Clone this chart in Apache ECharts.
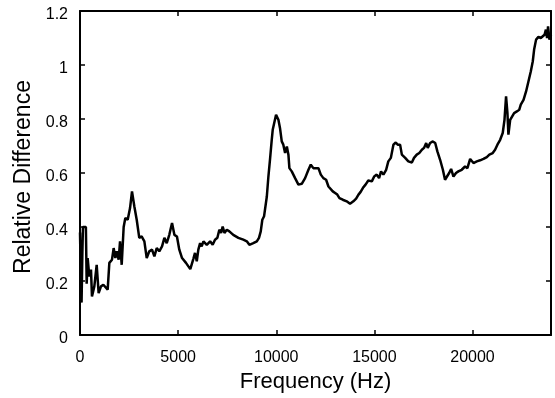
<!DOCTYPE html>
<html>
<head>
<meta charset="utf-8">
<script src="https://cdn.jsdelivr.net/npm/echarts@6/dist/echarts.min.js"></script>
<style>
html,body{margin:0;padding:0;background:#fff;}
#chart{width:555px;height:398px;}
</style>
</head>
<body>
<div id="chart"></div>
<script>
// Frequency (Hz) sample points
var freqHz = [0,40,80,120,150,300,340,390,475,560,610,730,850,950,1070,1190,1410,1495,1630,1715,1800,1870,1970,2040,2125,2225,2310,2430,2550,2650,2770,2890,3020,3140,3280,3400,3530,3670,3790,3910,4040,4180,4300,4420,4550,4690,4810,4940,5060,5200,5400,5620,5780,5860,5950,6030,6120,6200,6290,6460,6630,6760,6880,7000,7100,7190,7270,7360,7480,7610,7810,8070,8320,8500,8630,8830,9010,9120,9210,9290,9380,9430,9520,9600,9680,9770,9820,9890,9990,10110,10190,10280,10360,10450,10540,10620,10670,10790,10960,11130,11300,11470,11640,11760,11890,12030,12150,12270,12400,12540,12660,12740,12880,13000,13110,13220,13390,13590,13760,13930,14070,14190,14300,14420,14550,14690,14870,14990,15120,15240,15340,15460,15600,15710,15840,15970,16090,16190,16310,16400,16570,16730,16910,17020,17160,17290,17420,17530,17640,17720,17840,17980,18100,18210,18350,18490,18600,18690,18810,18910,19030,19160,19280,19450,19620,19740,19880,20050,20220,20390,20560,20730,20860,21030,21150,21270,21410,21540,21630,21710,21780,21830,21920,22010,22120,22260,22380,22460,22600,22730,22850,22970,23070,23140,23240,23360,23480,23580,23670,23740,23800,23850,23920,24000];
// Relative difference values
var relDiff = [0.38,0.22,0.12,0.30,0.40,0.40,0.19,0.285,0.217,0.242,0.143,0.18,0.26,0.155,0.18,0.186,0.168,0.267,0.279,0.322,0.285,0.31,0.279,0.347,0.26,0.40,0.433,0.427,0.47,0.532,0.476,0.427,0.36,0.365,0.347,0.285,0.31,0.316,0.291,0.322,0.31,0.328,0.36,0.34,0.371,0.415,0.371,0.365,0.316,0.285,0.267,0.244,0.283,0.304,0.273,0.316,0.34,0.328,0.347,0.334,0.347,0.334,0.353,0.36,0.39,0.378,0.402,0.378,0.39,0.384,0.371,0.36,0.353,0.347,0.334,0.34,0.347,0.36,0.384,0.427,0.44,0.44,0.513,0.587,0.649,0.723,0.76,0.767,0.816,0.797,0.767,0.717,0.705,0.674,0.698,0.668,0.618,0.606,0.581,0.557,0.56,0.581,0.612,0.631,0.618,0.618,0.618,0.594,0.581,0.575,0.55,0.557,0.532,0.526,0.52,0.507,0.501,0.495,0.486,0.495,0.505,0.52,0.53,0.545,0.557,0.572,0.569,0.587,0.594,0.581,0.606,0.594,0.612,0.643,0.656,0.705,0.713,0.705,0.705,0.668,0.656,0.643,0.639,0.656,0.668,0.674,0.686,0.693,0.711,0.693,0.711,0.717,0.711,0.68,0.649,0.612,0.575,0.569,0.6,0.615,0.587,0.6,0.606,0.612,0.624,0.618,0.652,0.637,0.643,0.647,0.652,0.659,0.668,0.674,0.686,0.705,0.723,0.748,0.797,0.884,0.822,0.742,0.797,0.804,0.822,0.828,0.834,0.853,0.871,0.902,0.939,0.976,1.013,1.057,1.094,1.104,1.1,1.094,1.112,1.131,1.1,1.143,1.094,1.112];
var xTitle = 'Frequency (Hz)';
var yTitle = 'Relative Difference';
var xMin = 0, xMax = 24000, xStep = 5000;
var yMin = 0, yMax = 1.2, yStep = 0.2;

var points = freqHz.map(function (f, i) { return [f, relDiff[i]]; });
var font = 'Liberation Sans, Arial, Helvetica, sans-serif';
var axisLine = { show: true, onZero: false, lineStyle: { color: '#000', width: 2 } };
var tick = { show: true, inside: true, length: 5, lineStyle: { color: '#000', width: 1.5 } };

var chart = echarts.init(document.getElementById('chart'), null, { renderer: 'canvas' });
chart.setOption({
  animation: false,
  backgroundColor: '#fff',
  grid: { left: 80, right: 4, top: 11, bottom: 63, containLabel: false },
  xAxis: [{
    type: 'value', position: 'bottom', min: xMin, max: xMax, interval: xStep,
    axisLine: axisLine, axisTick: tick, splitLine: { show: false },
    axisLabel: { color: '#000', fontFamily: font, fontSize: 16, margin: 15, showMaxLabel: false,
      formatter: function (v) { return String(v); } },
    name: xTitle, nameLocation: 'middle', nameGap: 36,
    nameTextStyle: { color: '#000', fontFamily: font, fontSize: 22 }
  }, {
    type: 'value', position: 'top', min: xMin, max: xMax, interval: xStep,
    axisLine: axisLine, axisTick: tick, splitLine: { show: false }, axisLabel: { show: false }
  }],
  yAxis: [{
    type: 'value', position: 'left', min: yMin, max: yMax, interval: yStep,
    axisLine: axisLine, axisTick: tick, splitLine: { show: false },
    axisLabel: { color: '#000', fontFamily: font, fontSize: 16, margin: 12, verticalAlign: 'top', lineHeight: 8 },
    name: yTitle, nameLocation: 'middle', nameGap: 43, nameRotate: 90,
    nameTextStyle: { color: '#000', fontFamily: font, fontSize: 23, padding: [0, 8, 0, 0] }
  }, {
    type: 'value', position: 'right', min: yMin, max: yMax, interval: yStep,
    axisLine: axisLine, axisTick: tick, splitLine: { show: false }, axisLabel: { show: false }
  }],
  series: [{
    type: 'line', xAxisIndex: 0, yAxisIndex: 0, data: points,
    showSymbol: false, symbol: 'none', smooth: false,
    lineStyle: { color: '#000', width: 2.5 }
  }]
});
</script>
</body>
</html>
